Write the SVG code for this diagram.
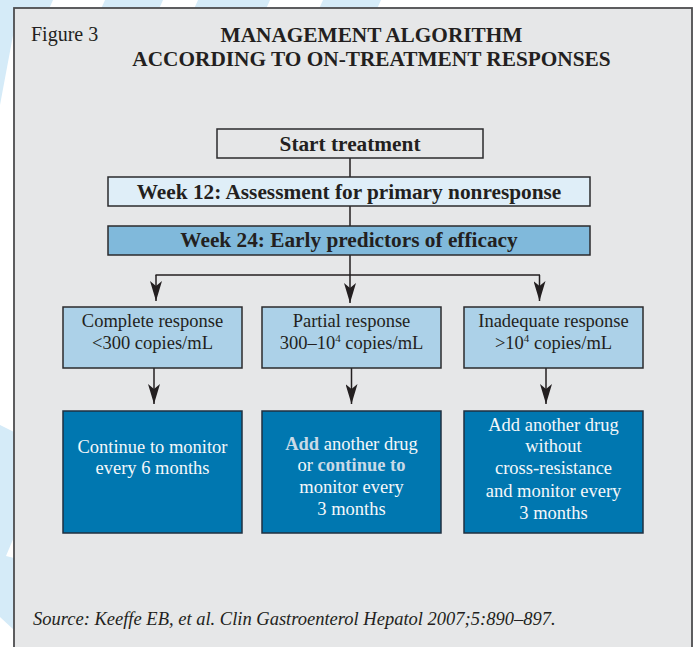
<svg xmlns="http://www.w3.org/2000/svg" width="699" height="647" viewBox="0 0 699 647">
<defs>
<style>
.bg{fill:#d5ebf8}
.panel{fill:#e6e7e8;stroke:#4d4d4f;stroke-width:1.8}
.box{stroke:#2b2b2d;stroke-width:1.5}
.start{fill:#e6e7e8}
.w12{fill:#dfeef8}
.w24{fill:#80b9db}
.resp{fill:#acd1e8}
.act{fill:#0077b0;stroke:#1f3140}
.t{font-family:"Liberation Serif","Times New Roman",serif;fill:#231f20}
.hd{font-size:21.3px;font-weight:bold;text-anchor:middle}
.bd{font-size:18.5px;text-anchor:middle}
.wt{fill:#f5f8fa}
.hl{font-weight:bold;fill:#c9dae7}
.conn{stroke:#231f20;stroke-width:1.5;fill:none}
</style>
<marker id="ah" markerUnits="userSpaceOnUse" markerWidth="20" markerHeight="12" refX="20" refY="6" orient="auto">
<path d="M0,0 L20,6 L0,12 L5,6 Z" fill="#231f20"/>
</marker>
</defs>
<rect width="699" height="647" fill="#ffffff"/>
<g id="background">
<polygon class="bg" points="0,0 53,0 49,9 14,30 0,105"/>
<polygon class="bg" points="105,0 163,0 159,9 101,9"/>
<polygon class="bg" points="198,0 270,0 266,9 194,9"/>
<polygon class="bg" points="323,0 381,0 377,9 319,9"/>
<polygon class="bg" points="0,425 14,432 14,630 0,617"/>
<polygon fill="#ffffff" points="14,537 14,558 6,556"/>
</g>
<rect class="panel" x="14" y="8" width="678" height="660"/>
<g id="title">
<text class="t" x="31" y="41" font-size="20">Figure 3</text>
<text class="t hd" x="371.5" y="42">MANAGEMENT ALGORITHM</text>
<text class="t hd" x="371.5" y="66">ACCORDING TO ON-TREATMENT RESPONSES</text>
</g>
<g id="connectors">
<line class="conn" x1="350" y1="158" x2="350" y2="177"/>
<line class="conn" x1="350" y1="206" x2="350" y2="226"/>
<line class="conn" x1="350" y1="255" x2="350" y2="275"/>
<line class="conn" x1="155.5" y1="275" x2="540" y2="275"/>
<line class="conn" x1="156" y1="275" x2="156" y2="301" marker-end="url(#ah)"/>
<line class="conn" x1="350" y1="275" x2="350" y2="303" marker-end="url(#ah)"/>
<line class="conn" x1="539.5" y1="275" x2="539.5" y2="301" marker-end="url(#ah)"/>
<line class="conn" x1="154" y1="368" x2="154" y2="404" marker-end="url(#ah)"/>
<line class="conn" x1="351.5" y1="368" x2="351.5" y2="404" marker-end="url(#ah)"/>
<line class="conn" x1="546" y1="368" x2="546" y2="404" marker-end="url(#ah)"/>
</g>
<g id="start">
<rect class="box start" x="217" y="129" width="266" height="29"/>
<text class="t hd" x="350" y="151">Start treatment</text>
</g>
<g id="week12">
<rect class="box w12" x="108" y="177" width="482" height="29"/>
<text class="t hd" x="349" y="199">Week 12: Assessment for primary nonresponse</text>
</g>
<g id="week24">
<rect class="box w24" x="108" y="226" width="482" height="29"/>
<text class="t hd" x="349" y="247">Week 24: Early predictors of efficacy</text>
</g>
<g id="complete">
<rect class="box resp" x="63" y="307" width="179" height="61"/>
<text class="t bd" x="152.5" y="327">Complete response</text>
<text class="t bd" x="152.5" y="349">&lt;300 copies/mL</text>
</g>
<g id="partial">
<rect class="box resp" x="262" y="307" width="179" height="61"/>
<text class="t bd" x="351.5" y="327">Partial response</text>
<text class="t bd" x="351.5" y="349">300–10<tspan font-size="11" dy="-7">4</tspan><tspan dy="7"> copies/mL</tspan></text>
</g>
<g id="inadequate">
<rect class="box resp" x="464" y="307" width="179" height="61"/>
<text class="t bd" x="553.5" y="327">Inadequate response</text>
<text class="t bd" x="553.5" y="349">&gt;10<tspan font-size="11" dy="-7">4</tspan><tspan dy="7"> copies/mL</tspan></text>
</g>
<g id="monitor6">
<rect class="box act" x="63" y="411" width="179" height="122"/>
<text class="t bd wt" x="152.5" y="453">Continue to monitor</text>
<text class="t bd wt" x="152.5" y="474">every 6 months</text>
</g>
<g id="addOrContinue">
<rect class="box act" x="262" y="411" width="179" height="122"/>
<text class="t bd wt" x="351.5" y="450"><tspan class="hl">Add</tspan> another drug</text>
<text class="t bd wt" x="351.5" y="471">or <tspan class="hl">continue to</tspan></text>
<text class="t bd wt" x="351.5" y="493">monitor every</text>
<text class="t bd wt" x="351.5" y="515">3 months</text>
</g>
<g id="addDrug">
<rect class="box act" x="464" y="411" width="179" height="122"/>
<text class="t bd wt" x="553.5" y="431">Add another drug</text>
<text class="t bd wt" x="553.5" y="452">without</text>
<text class="t bd wt" x="553.5" y="474">cross-resistance</text>
<text class="t bd wt" x="553.5" y="497">and monitor every</text>
<text class="t bd wt" x="553.5" y="519">3 months</text>
</g>
<g id="source">
<text class="t" x="33" y="625" font-size="18.5" font-style="italic">Source: Keeffe EB, et al. Clin Gastroenterol Hepatol 2007;5:890–897.</text>
</g>
</svg>
